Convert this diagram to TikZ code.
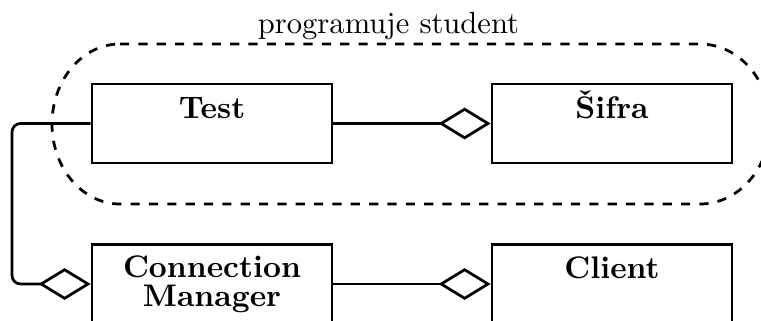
\documentclass[tikz,border=0pt]{standalone}
\usetikzlibrary{arrows.meta}
\begin{document}
\begin{tikzpicture}[x=0.327pt, y=-0.327pt,
  line width=0.9pt,
  classbox/.style={draw, minimum width=78.5pt, minimum height=25.8pt, inner sep=0pt},
  classname/.style={font=\bfseries\fontsize{10.2}{9.6}\selectfont, align=center, anchor=base, inner sep=0pt},
  aggr/.style={-{Diamond[open, length=17pt, width=10.4pt]}},
  group/.style={draw, dashed}]
  \useasboundingbox (0,0) rectangle (761,320);

  % student's part of the code: a dashed capsule with elliptic ends
  \draw[group] (120,44) -- (700,44)
    arc[start angle=-90, end angle=90, x radius=70, y radius=80]
    -- (120,204)
    arc[start angle=90, end angle=270, x radius=68, y radius=80];
  \node[anchor=base, inner sep=0pt] (title) at (388.5,33) {programuje student};

  % classes
  \node[classbox] (test)   at (212,123.5) {};
  \node[classbox] (sifra)  at (612,123.5) {};
  \node[classbox] (cm)     at (212,284) {};
  \node[classbox] (client) at (612,284) {};

  % class names (base anchor = baseline of the last line)
  \node[classname] (testname)   at (212,118) {Test};
  \node[classname] (sifraname)  at (612,118) {Šifra};
  \node[classname] (cmname)     at (212,306.5) {Connection\\Manager};
  \node[classname] (clientname) at (612,278) {Client};

  % aggregations
  \coordinate (lx) at (12,200);
  \draw[aggr] (test.east) -- (sifra.west);
  \draw[aggr] (cm.east) -- (client.west);
  \draw[aggr, rounded corners=2.8pt] (test.west) -| (lx) |- (cm.west);
\end{tikzpicture}
\end{document}
